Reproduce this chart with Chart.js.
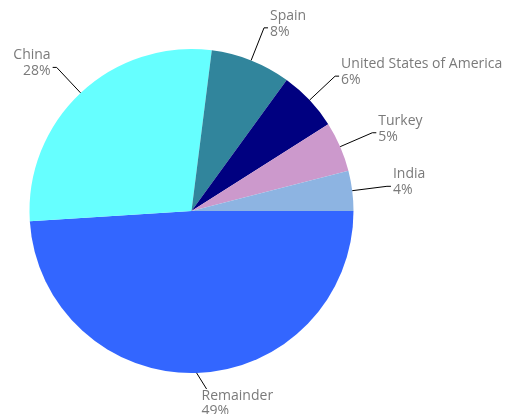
<!DOCTYPE html>
<html>
<head>
<meta charset="utf-8">
<script src="https://cdn.jsdelivr.net/npm/chart.js@4/dist/chart.umd.min.js"></script>
<style>
  html, body { margin: 0; padding: 0; background: #fff; }
  #wrap { width: 519px; height: 414px; }
</style>
</head>
<body>
<div id="wrap"><canvas id="chart"></canvas></div>
<script>
// slices listed clockwise starting from 3 o'clock
const countries = ["Remainder", "China", "Spain", "United States of America", "Turkey", "India"];
const shares = [49, 28, 8, 6, 5, 4];
const sliceColors = ["#3366ff", "#66ffff", "#31859c", "#000080", "#cc99cc", "#8db4e2"];

// callout labels with leader lines
const calloutLabels = {
  id: "calloutLabels",
  afterDatasetsDraw(chart) {
    const ctx = chart.ctx;
    const meta = chart.getDatasetMeta(0);
    const total = shares.reduce((a, b) => a + b, 0);
    ctx.save();
    ctx.font = "14px 'Open Sans'";
    ctx.fillStyle = "#7a7a7a";
    ctx.strokeStyle = "#000";
    ctx.lineWidth = 1;
    meta.data.forEach((arc, i) => {
      const p = arc.getProps(["x", "y", "startAngle", "endAngle", "outerRadius"], true);
      const mid = (p.startAngle + p.endAngle) / 2;
      const cos = Math.cos(mid), sin = Math.sin(mid);
      const r = p.outerRadius;
      const x0 = p.x + cos * r, y0 = p.y + sin * r;
      const len = 35;
      let ex = p.x + cos * (r + len), ey = p.y + sin * (r + len);
      const pct = Math.round(shares[i] / total * 100) + "%";
      ctx.beginPath();
      ctx.moveTo(x0, y0);
      ctx.textBaseline = "middle";
      if (Math.abs(cos) < 0.3 && sin > 0) {
        // bottom label: not enough room below, so it sits just under the pie
        ex = x0 + 10;
        ey = chart.height - 25;
        ctx.lineTo(ex, ey);
        ctx.stroke();
        ctx.textAlign = "left";
        ctx.fillText(countries[i], ex - 5, ey + 7);
        ctx.fillText(pct, ex - 5, ey + 22);
      } else if (cos >= 0) {
        ctx.lineTo(ex, ey);
        ctx.lineTo(ex + 4, ey);
        ctx.stroke();
        ctx.textAlign = "left";
        ctx.fillText(countries[i], ex + 6, ey - 12);
        ctx.fillText(pct, ex + 6, ey + 4);
      } else {
        ctx.lineTo(ex, ey);
        ctx.lineTo(ex - 4, ey);
        ctx.stroke();
        ctx.textAlign = "right";
        ctx.fillText(countries[i], ex - 6, ey - 12);
        ctx.fillText(pct, ex - 6, ey + 4);
      }
    });
    ctx.restore();
  }
};

new Chart(document.getElementById("chart"), {
  type: "pie",
  data: {
    labels: countries,
    datasets: [{
      data: shares,
      backgroundColor: sliceColors,
      borderWidth: 0
    }]
  },
  options: {
    responsive: true,
    maintainAspectRatio: false,
    animation: false,
    rotation: 90,
    layout: { padding: { left: 29.5, right: 165.5, top: 49, bottom: 41 } },
    plugins: {
      legend: { display: false },
      tooltip: { enabled: false }
    }
  },
  plugins: [calloutLabels]
});
</script>
</body>
</html>
